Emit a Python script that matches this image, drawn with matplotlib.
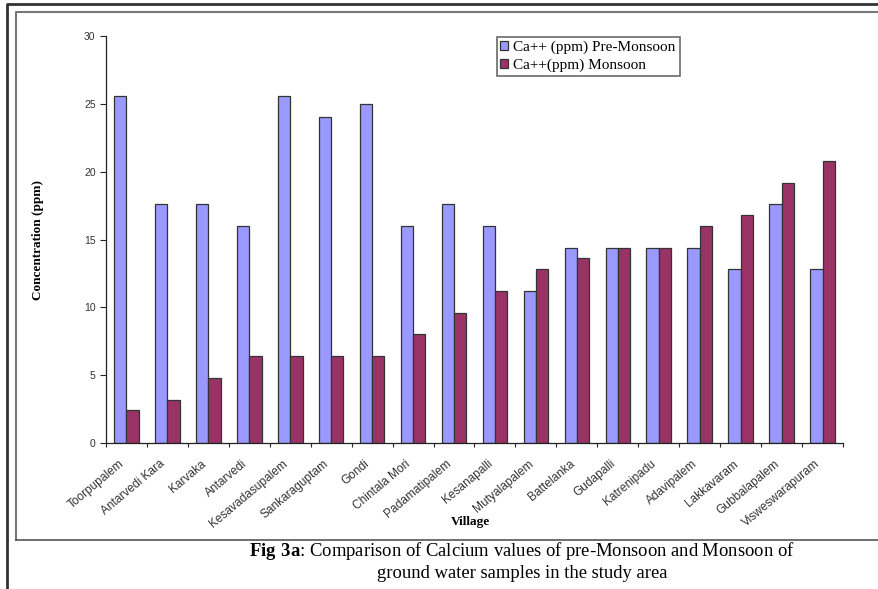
import numpy as np
import matplotlib
matplotlib.use("Agg")
import matplotlib.pyplot as plt
import matplotlib.transforms as mtransforms
from matplotlib.lines import Line2D

plt.rcParams['mathtext.fontset'] = 'custom'
plt.rcParams['mathtext.rm'] = 'Liberation Serif'
plt.rcParams['mathtext.bf'] = 'Liberation Serif:bold'

villages = ['Toorpupalem', 'Antarvedi Kara', 'Karvaka', 'Antarvedi',
            'Kesavadasupalem', 'Sankaraguptam', 'Gondi', 'Chintala Mori',
            'Padamatipalem', 'Kesanapalli', 'Mutyalapalem', 'Battelanka',
            'Gudapalli', 'Katrenipadu', 'Adavipalem', 'Lakkavaram',
            'Gubbalapalem', 'Visweswarapuram']
pre_monsoon = [25.6, 17.6, 17.6, 16.0, 25.6, 24.0, 25.0, 16.0, 17.6,
               16.0, 11.2, 14.4, 14.4, 14.4, 14.4, 12.8, 17.6, 12.8]
monsoon = [2.4, 3.2, 4.8, 6.4, 6.4, 6.4, 6.4, 8.0, 9.6,
           11.2, 12.8, 13.6, 14.4, 14.4, 16.0, 16.8, 19.2, 20.8]

fig = plt.figure(figsize=(8.79, 5.89), dpi=100)
ax = fig.add_axes([106/879, 1-443/589, (843-106)/879, (443-36)/589])

x = np.arange(len(villages))
w = 0.3
ax.bar(x - w/2, pre_monsoon, w, color='#9999FF', edgecolor='#333333',
       linewidth=0.9, label='Ca++ (ppm) Pre-Monsoon')
ax.bar(x + w/2, monsoon, w, color='#993366', edgecolor='#333333',
       linewidth=0.9, label='Ca++(ppm) Monsoon')

ax.set_xlim(-0.5, len(villages) - 0.5)
ax.set_ylim(0, 30)
ax.set_yticks(range(0, 31, 5))
for s in ['top', 'right']:
    ax.spines[s].set_visible(False)
for s in ['left', 'bottom']:
    ax.spines[s].set_color('#222222')
    ax.spines[s].set_linewidth(0.9)

# ticks between categories, labels at category centres
ax.set_xticks(np.arange(-0.5, len(villages)), minor=False)
ax.set_xticklabels([])
ax.set_xticks(x, minor=True)
ax.set_xticklabels(villages, minor=True, rotation=40, ha='right',
                   va='center', rotation_mode='anchor', fontsize=8.6,
                   color='#333333', family='Liberation Sans')
ax.tick_params(axis='x', which='minor', length=0, pad=14)
ax.tick_params(axis='x', which='major', length=3, direction='out',
               color='#222222')
shift = mtransforms.ScaledTranslation(-4/100, 0, fig.dpi_scale_trans)
for t in ax.get_xticklabels(minor=True):
    t.set_transform(t.get_transform() + shift)
ax.tick_params(axis='y', length=4, direction='out', color='#222222',
               labelsize=7.5, labelcolor='#333333')
for t in ax.get_yticklabels():
    t.set_family('Liberation Sans')

ax.set_ylabel('Concentration (ppm)', family='Liberation Serif',
              fontweight='bold', fontsize=9.5)
ax.yaxis.set_label_coords(-0.084, 0.5)
ax.set_xlabel('Village', family='Liberation Serif', fontweight='bold',
              fontsize=9.5)
ax.xaxis.set_label_coords(0.494, -0.18)

leg = ax.legend(loc='upper left', bbox_to_anchor=(0.53, 0.9975),
                prop={'family': 'Liberation Serif', 'size': 11},
                frameon=True, fancybox=False, handlelength=0.5,
                handleheight=0.5, handletextpad=0.35, borderpad=0.25,
                labelspacing=0.3, borderaxespad=0)
leg.get_frame().set_edgecolor('#444444')
leg.get_frame().set_linewidth(1.2)

# chart frame and page border
fig.add_artist(Line2D([16/879, 16/879, 1.0], [1-540/589, 1-12/589, 1-12/589],
                      transform=fig.transFigure, color='#777777', lw=1.5))
fig.add_artist(Line2D([16/879, 1.0], [1-540/589, 1-540/589],
                      transform=fig.transFigure, color='#555555', lw=1.2))
fig.add_artist(Line2D([7/879, 7/879, 1.0], [0.0, 1-4/589, 1-4/589],
                      transform=fig.transFigure, color='#333333', lw=2))

fig.text(0.594, 1-551/589,
         r'$\mathbf{Fig\ 3a}$: Comparison of Calcium values of pre-Monsoon and Monsoon of',
         ha='center', va='center', family='Liberation Serif', fontsize=13.4)
fig.text(0.594, 1-573/589, 'ground water samples in the study area',
         ha='center', va='center', family='Liberation Serif', fontsize=13.4)

fig.savefig('out.png', dpi=100)
